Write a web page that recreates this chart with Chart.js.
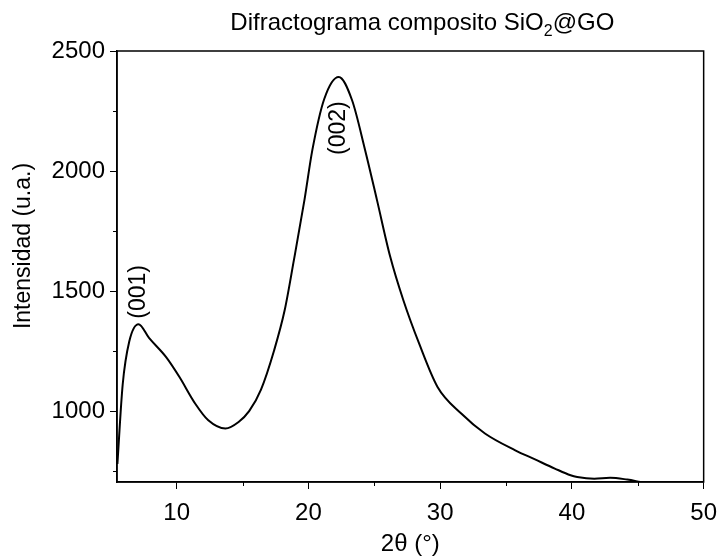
<!DOCTYPE html>
<html>
<head>
<meta charset="utf-8">
<script src="https://cdn.jsdelivr.net/npm/chart.js@4"></script>
<style>
html, body { margin: 0; padding: 0; background: #fff; }
#wrap { width: 727px; height: 560px; position: relative; }
</style>
</head>
<body>
<div id="wrap"><canvas id="xrd"></canvas></div>
<script>
const twoTheta = [5.5, 5.9, 6.4, 7.1, 7.9, 9.2, 10.2, 11.4, 12.4, 13.7, 14.7, 15.5, 16.4, 17.4, 18.2, 18.9, 19.7, 20.3, 21.2, 22.3, 23.3, 24.3, 25.2, 26.2, 27.2, 28.4, 29.8, 31.6, 33.4, 35.7, 37.2, 38.7, 39.9, 40.4, 41.7, 42.9, 44.2, 45.2];
const intensity = [780, 1110, 1290, 1362, 1305, 1225, 1143, 1032, 962, 928, 955, 1000, 1090, 1254, 1421, 1630, 1880, 2088, 2300, 2392, 2297, 2088, 1880, 1645, 1463, 1282, 1101, 990, 907, 837, 799, 761, 733, 726, 719, 723, 715, 705];

const xTicks = [10, 20, 30, 40, 50];
const xMinorTicks = [15, 25, 35, 45];
const yTicks = [1000, 1500, 2000, 2500];
const yMinorTicks = [750, 1250, 1750, 2250];

const peakNames = ['(001)', '(002)'];
const peakAtX = [7.1, 22.3];
const peakAtY = [1385, 2067];

const FONT = "'Liberation Sans', Arial, sans-serif";

const extras = {
    id: 'extras',
    afterDraw(chart) {
        const { ctx, chartArea: a, scales: { x, y } } = chart;
        ctx.save();
        // marco
        ctx.strokeStyle = '#000';
        ctx.lineWidth = 1.5;
        ctx.strokeRect(a.left, a.top, a.right - a.left, a.bottom - a.top);
        // ticks menores
        ctx.lineWidth = 1;
        ctx.beginPath();
        xMinorTicks.forEach(v => {
            const px = Math.round(x.getPixelForValue(v)) + 0.5;
            ctx.moveTo(px, a.bottom);
            ctx.lineTo(px, a.bottom + 4);
        });
        yMinorTicks.forEach(v => {
            const py = Math.round(y.getPixelForValue(v)) + 0.5;
            ctx.moveTo(a.left, py);
            ctx.lineTo(a.left - 4, py);
        });
        ctx.stroke();
        // etiquetas de picos
        ctx.fillStyle = '#000';
        ctx.font = '23px ' + FONT;
        ctx.textAlign = 'left';
        ctx.textBaseline = 'middle';
        peakNames.forEach((t, i) => {
            ctx.save();
            ctx.translate(x.getPixelForValue(peakAtX[i]), y.getPixelForValue(peakAtY[i]));
            ctx.rotate(-Math.PI / 2);
            ctx.fillText(t, 0, 0);
            ctx.restore();
        });
        // titulo del eje y
        ctx.save();
        ctx.translate(24, 246);
        ctx.rotate(-Math.PI / 2);
        ctx.textAlign = 'center';
        ctx.font = '23px ' + FONT;
        ctx.fillText('Intensidad (u.a.)', 0, 0);
        ctx.restore();
        // titulo con subindice
        const parts = [['Difractograma composito SiO', 24, 0], ['2', 16, 6], ['@GO', 24, 0]];
        let w = 0;
        parts.forEach(p => { ctx.font = p[1] + 'px ' + FONT; w += ctx.measureText(p[0]).width; });
        let cx = (a.left + a.right) / 2 - w / 2 + 12;
        ctx.textAlign = 'left';
        ctx.textBaseline = 'alphabetic';
        parts.forEach(p => {
            ctx.font = p[1] + 'px ' + FONT;
            ctx.fillText(p[0], cx, 30 + p[2]);
            cx += ctx.measureText(p[0]).width;
        });
        ctx.restore();
    }
};

new Chart(document.getElementById('xrd'), {
    type: 'line',
    data: {
        datasets: [{
            data: twoTheta.map((t, i) => ({ x: t, y: intensity[i] })),
            borderColor: '#000',
            borderWidth: 2,
            pointRadius: 0,
            fill: false,
            cubicInterpolationMode: 'monotone'
        }]
    },
    options: {
        responsive: true,
        maintainAspectRatio: false,
        animation: false,
        layout: { padding: { top: 51, right: 15, left: 0, bottom: 0 } },
        plugins: { legend: { display: false }, tooltip: { enabled: false } },
        scales: {
            x: {
                type: 'linear',
                min: 5.47,
                max: 50,
                afterFit: s => { s.height = 78; },
                afterBuildTicks: s => { s.ticks = xTicks.map(v => ({ value: v })); },
                grid: { drawOnChartArea: false, tickLength: 7, color: '#000', lineWidth: 1 },
                border: { display: true, color: '#000', width: 1.5 },
                ticks: { color: '#000', font: { size: 24, family: FONT }, padding: 10, maxRotation: 0, callback: v => String(v) },
                title: { display: true, text: '2θ (°)', color: '#000', font: { size: 24, family: FONT }, padding: { top: 0, bottom: 1 } }
            },
            y: {
                min: 705,
                max: 2500,
                afterFit: s => { s.width = 117; },
                afterBuildTicks: s => { s.ticks = yTicks.map(v => ({ value: v })); },
                grid: { drawOnChartArea: false, tickLength: 7, color: '#000', lineWidth: 1 },
                border: { display: true, color: '#000', width: 1.5 },
                ticks: { color: '#000', font: { size: 24, family: FONT }, padding: 5, callback: v => String(v) },
                title: { display: false }
            }
        }
    },
    plugins: [extras]
});
</script>
</body>
</html>
